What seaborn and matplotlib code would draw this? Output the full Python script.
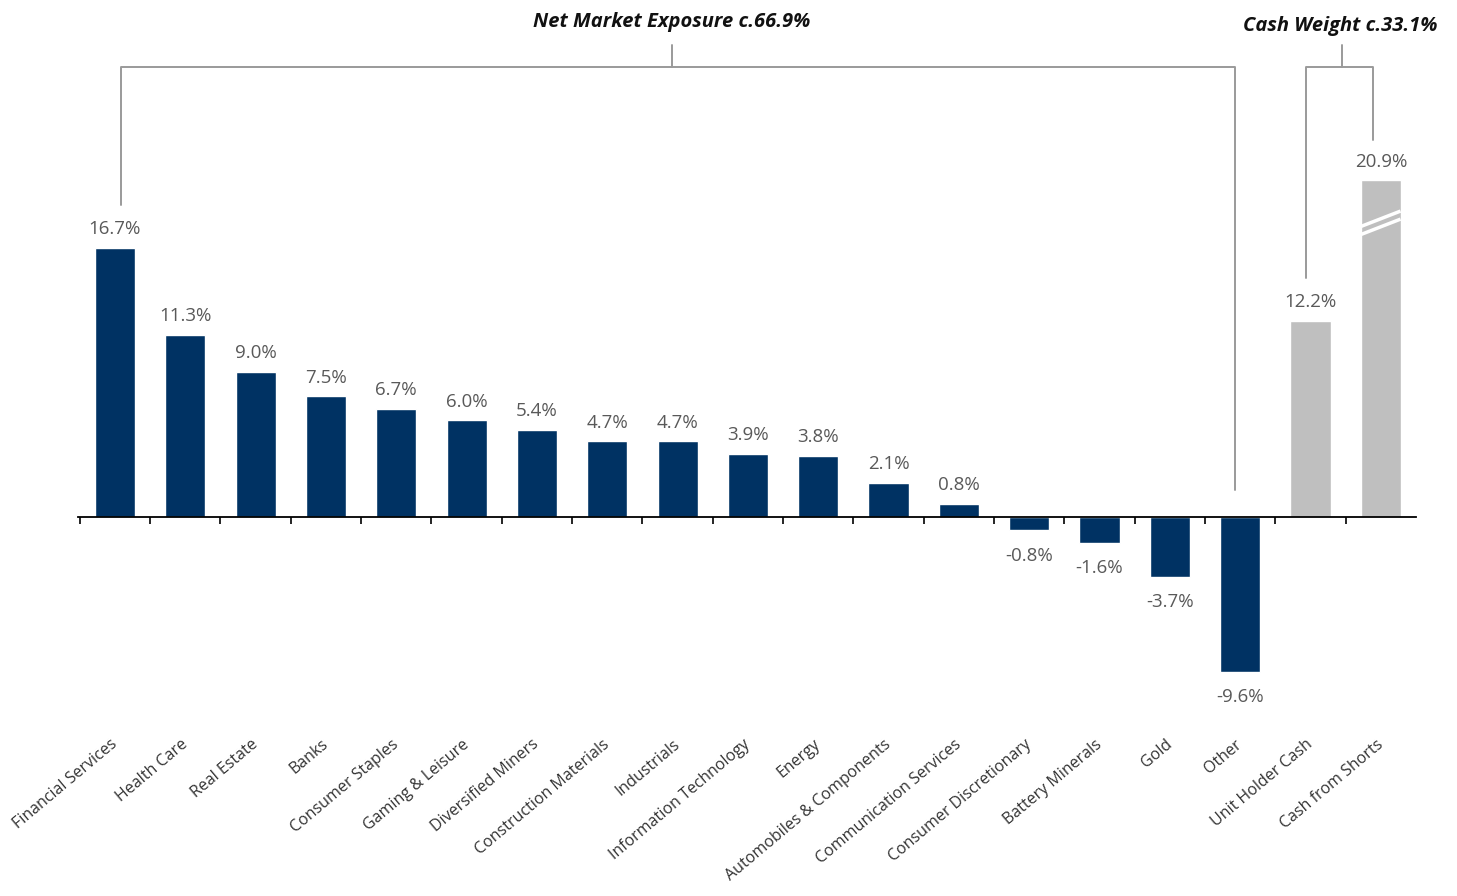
import matplotlib
matplotlib.use("Agg")
import matplotlib.pyplot as plt
import matplotlib.transforms as mtransforms
import seaborn as sns
import pandas as pd
import numpy as np

categories = ["Financial Services", "Health Care", "Real Estate", "Banks", "Consumer Staples",
              "Gaming & Leisure", "Diversified Miners", "Construction Materials", "Industrials",
              "Information Technology", "Energy", "Automobiles & Components",
              "Communication Services", "Consumer Discretionary", "Battery Minerals", "Gold",
              "Other", "Unit Holder Cash", "Cash from Shorts"]
values = [16.7, 11.3, 9.0, 7.5, 6.7, 6.0, 5.4, 4.7, 4.7, 3.9, 3.8, 2.1, 0.8,
          -0.8, -1.6, -3.7, -9.6, 12.2, 20.9]
groups = ["Net Market Exposure"] * 17 + ["Cash Weight"] * 2
labels = ["16.7%", "11.3%", "9.0%", "7.5%", "6.7%", "6.0%", "5.4%", "4.7%", "4.7%", "3.9%",
          "3.8%", "2.1%", "0.8%", "-0.8%", "-1.6%", "-3.7%", "-9.6%", "12.2%", "20.9%"]
title_net = "Net Market Exposure c.66.9%"
title_cash = "Cash Weight c.33.1%"

NAVY = "#003263"
GREY = "#BFBFBF"

sns.set_theme(style="white")
plt.rcParams['font.family'] = ['Open Sans', 'DejaVu Sans']

df = pd.DataFrame({"cat": categories, "val": values, "grp": groups})

fig = plt.figure(figsize=(14.57, 8.96), dpi=100)
ax = fig.add_axes([78 / 1457, 0, 1338 / 1457, 1])
sns.barplot(data=df, x="cat", y="val", hue="grp",
            palette={"Net Market Exposure": NAVY, "Cash Weight": GREY},
            dodge=False, width=0.57, legend=False, ax=ax, saturation=1)

ax.set_xlim(-0.525, 18.5)
ax.set_ylim(-23.54, 32.11)
ax.set_xlabel("")
ax.set_ylabel("")
for s in ["top", "right", "left"]:
    ax.spines[s].set_visible(False)
ax.spines["bottom"].set_position(("data", 0))
ax.spines["bottom"].set_color("black")
ax.spines["bottom"].set_linewidth(1.3)
ax.set_yticks([])

n = len(categories)
ax.set_xticks(range(n))
ax.set_xticklabels(categories, rotation=40, ha="right", rotation_mode="anchor",
                   fontsize=11.5, color="#333333")
ax.tick_params(axis="x", which="major", bottom=True, length=0, pad=158)
ax.set_xticks([i - 0.5 for i in range(n)], minor=True)
ax.tick_params(axis="x", which="minor", bottom=True, length=5, width=1.2,
               direction="out", color="black")
# shift tick labels slightly left so their ends sit at the bar centres
offset = mtransforms.ScaledTranslation(-5 / 100, 0, fig.dpi_scale_trans)
for t in ax.get_xticklabels():
    t.set_transform(t.get_transform() + offset)

# value labels
for i, (v, lab) in enumerate(zip(values, labels)):
    if v >= 0:
        ax.annotate(lab, (i, v), xytext=(0, 7), textcoords="offset points",
                    ha="center", va="bottom", fontsize=13.5, color="#595959")
    else:
        ax.annotate(lab, (i, v), xytext=(0, -12), textcoords="offset points",
                    ha="center", va="top", fontsize=13.5, color="#595959")

# break mark on Cash from Shorts
ax.plot([17.72, 18.28], [18.05, 19.0], color="white", lw=2.5, solid_capstyle="butt")
ax.plot([17.72, 18.28], [17.55, 18.5], color="white", lw=2.5, solid_capstyle="butt")

# brackets
lc = "#9A9A9A"
yb = 27.95
ax.plot([0.085, 0.085, 15.92, 15.92], [19.4, yb, yb, 1.68], color=lc, lw=1.4, clip_on=False)
ax.plot([7.92, 7.92], [yb, 29.3], color=lc, lw=1.4, clip_on=False)
ax.plot([16.93, 16.93, 17.89, 17.89], [14.84, yb, yb, 23.4], color=lc, lw=1.4, clip_on=False)
ax.plot([17.45, 17.45], [yb, 29.3], color=lc, lw=1.4, clip_on=False)

ax.text(7.92, 30.75, title_net, ha="center", va="center", fontsize=14.5,
        fontweight="bold", fontstyle="italic", color="#111111")
ax.text(17.42, 30.5, title_cash, ha="center", va="center", fontsize=14.5,
        fontweight="bold", fontstyle="italic", color="#111111")

fig.savefig("out.png", dpi=100)
